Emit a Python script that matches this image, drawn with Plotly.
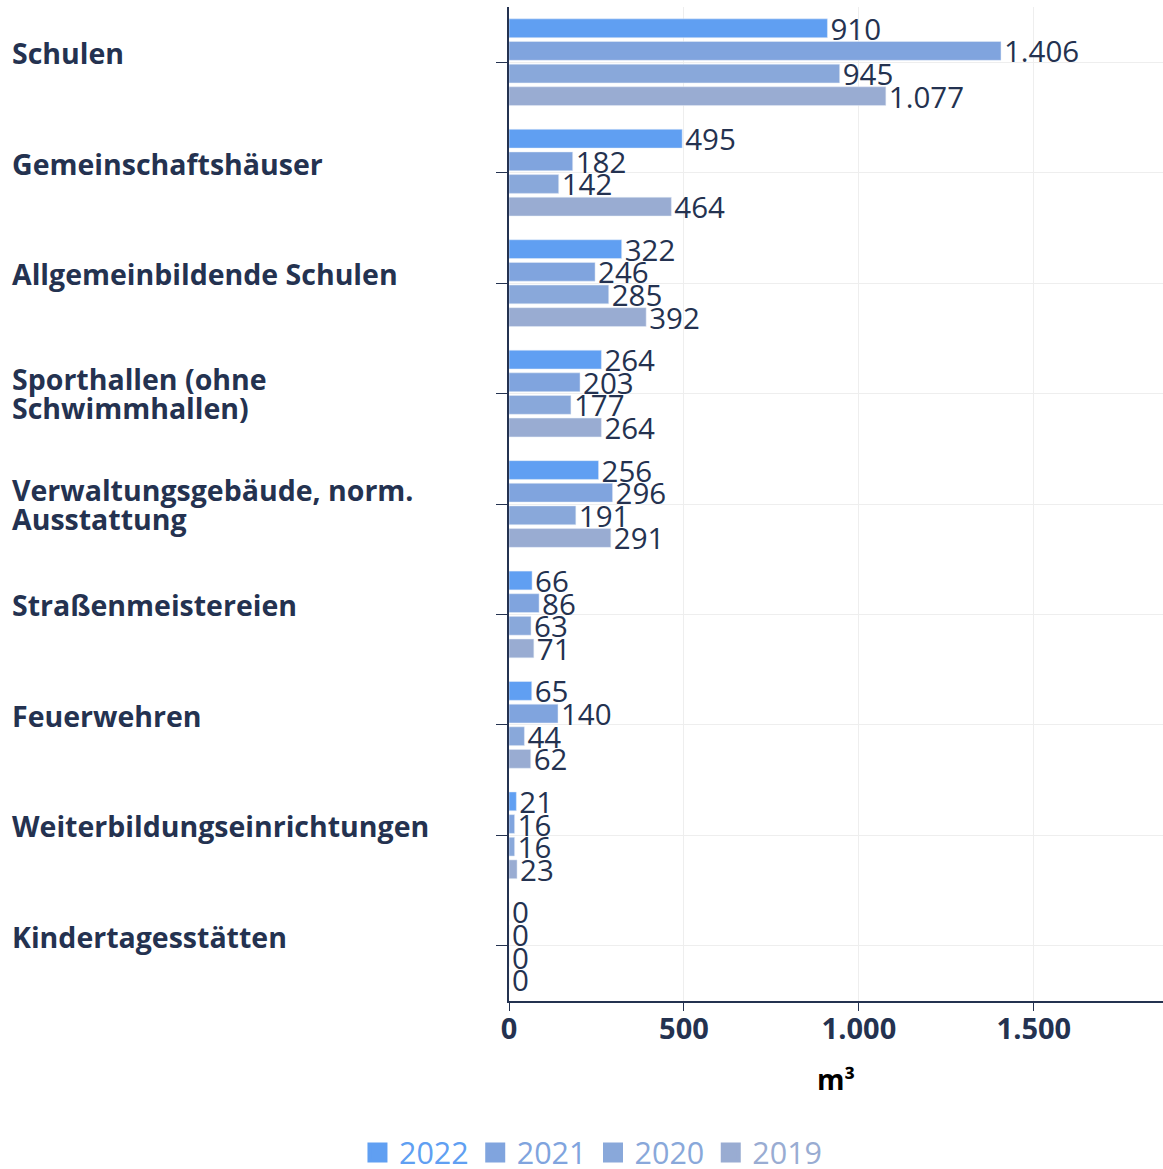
import plotly.graph_objects as go

# Data
categories = [
    "Schulen",
    "Gemeinschaftshäuser",
    "Allgemeinbildende Schulen",
    "Sporthallen (ohne<br>Schwimmhallen)",
    "Verwaltungsgebäude, norm.<br>Ausstattung",
    "Straßenmeistereien",
    "Feuerwehren",
    "Weiterbildungseinrichtungen",
    "Kindertagesstätten",
]
years = ["2022", "2021", "2020", "2019"]
values_2022 = [910, 495, 322, 264, 256, 66, 65, 21, 0]
values_2021 = [1406, 182, 246, 203, 296, 86, 140, 16, 0]
values_2020 = [945, 142, 285, 177, 191, 63, 44, 16, 0]
values_2019 = [1077, 464, 392, 264, 291, 71, 62, 23, 0]
series = [values_2022, values_2021, values_2020, values_2019]
colors = ["#609ff2", "#80a4de", "#89a8da", "#99acd2"]

DARK = "#243250"
FONT = "Open Sans"
SIZE = 29.5

fig = go.Figure()
for year, vals, col in zip(years, series, colors):
    fig.add_trace(go.Bar(
        y=categories, x=vals, name=year, orientation="h",
        marker=dict(color=col), showlegend=False,
        text=vals, texttemplate="%{x:,}", textposition="outside",
        constraintext="none",
        textfont=dict(family=FONT, size=SIZE, color=DARK),
        cliponaxis=False,
    ))

# legend entries with bigger square symbols and coloured text
for year, col in zip(years, colors):
    fig.add_trace(go.Scatter(
        x=[None], y=[None], mode="markers", name=f"<span style='color:{col}'>{year}</span>",
        marker=dict(symbol="square", size=16, color=col, line=dict(color=col, width=4)),
    ))

# left-aligned category labels (lines placed by hand for tight spacing)
for cat in categories:
    lines = cat.split("<br>")
    n = len(lines)
    for i, line in enumerate(lines):
        shift = 9 if n == 1 else (n - 1) * 14.5 - i * 29
        fig.add_annotation(
            x=-0.763, y=cat, xref="paper", yref="y",
            text=f"<b>{line}</b>", showarrow=False,
            xanchor="left", align="left", yshift=shift,
            font=dict(family=FONT, size=28.5, color=DARK),
        )

fig.update_layout(
    width=1163, height=1169,
    margin=dict(l=509, r=0, t=7, b=168, autoexpand=False),
    barmode="group", bargap=0.18, bargroupgap=0.17,
    separators=",.",
    plot_bgcolor="white", paper_bgcolor="white",
    font=dict(family=FONT, size=SIZE, color=DARK),
    showlegend=True,
    legend=dict(orientation="h", xref="container", x=0.509, xanchor="center",
                yref="container", y=0.014, yanchor="middle", itemwidth=33,
                font=dict(size=30.5), traceorder="normal"),
    xaxis=dict(
        range=[0, 1869], dtick=500, tickformat=",d",
        showgrid=True, gridcolor="#eeeeee", automargin=False,
        showline=True, linecolor=DARK, linewidth=2,
        ticks="outside", ticklen=8, tickcolor=DARK, ticklabelstandoff=-7,
        tickfont=dict(family=FONT, size=29, color=DARK, weight="bold"),
        title=dict(text="<b>m³</b>", font=dict(size=28, color="black"), standoff=25),
        zeroline=False,
    ),
    yaxis=dict(
        autorange="reversed", showticklabels=False, automargin=False,
        showgrid=True, gridcolor="#eeeeee",
        showline=True, linecolor=DARK, linewidth=2,
        ticks="outside", ticklen=11, tickcolor=DARK,
    ),
)

fig.write_html("out.html", config={"displayModeBar": False},
               post_script="document.body.style.margin='0px';")
